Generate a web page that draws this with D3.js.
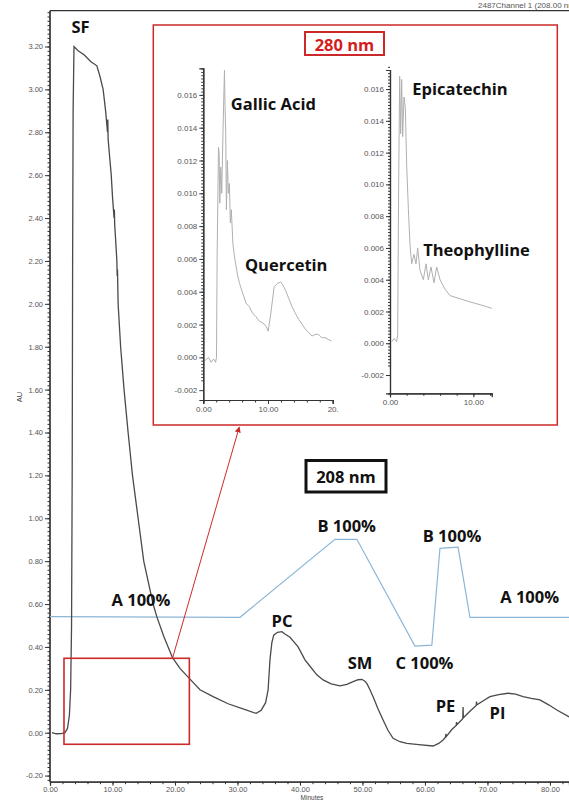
<!DOCTYPE html>
<html>
<head>
<meta charset="utf-8">
<script src="https://cdn.jsdelivr.net/npm/d3@7"></script>
<style>
  body { margin: 0; background: #fff; }
  svg { display: block; }
  .tick text { font-family: "Liberation Sans", Arial, sans-serif; fill: #555; }
  .lbl { font-family: "Open Sans", sans-serif; font-weight: 700; font-size: 16.5px; fill: #111; }
</style>
</head>
<body>
<div class="vis-hplc"></div>
<script>
// 208 nm trace (minutes, AU)
const trace208 = [
  [0.3, 0.0], [1.0, -0.005], [1.8, -0.004], [2.4, 0.0], [2.8, 0.02], [3.1, 0.08], [3.3, 0.2],
  [3.45, 0.5], [3.55, 1.2], [3.62, 2.2], [3.7, 2.9], [3.84, 3.2], [4.5, 3.18], [5.5, 3.16],
  [6.5, 3.13], [7.5, 3.11], [8.0, 3.06], [8.5, 3.0], [8.9, 2.9], [9.2, 2.8], [9.25, 2.86], [9.3, 2.77],
  [9.5, 2.7], [9.8, 2.6], [10.0, 2.5], [10.25, 2.4], [10.3, 2.44], [10.35, 2.37], [10.5, 2.3],
  [10.7, 2.2], [10.75, 2.13], [10.8, 2.16], [10.9, 2.0], [11.3, 1.8], [11.85, 1.6], [12.5, 1.4],
  [13.2, 1.2], [14.1, 1.0], [15.0, 0.8], [16.5, 0.6], [17.1, 0.54], [18.2, 0.45], [19.6, 0.35],
  [20.8, 0.3], [22.4, 0.25], [24.0, 0.2], [26.1, 0.168], [28.5, 0.135], [31.0, 0.11], [33.0, 0.09],
  [33.8, 0.105], [34.5, 0.14], [34.9, 0.2], [35.2, 0.34], [35.5, 0.42], [35.8, 0.455], [36.4, 0.468],
  [37.1, 0.471], [37.6, 0.46], [38.4, 0.445], [39.0, 0.425], [39.7, 0.40], [40.8, 0.34], [41.6, 0.31],
  [42.7, 0.27], [43.7, 0.246], [45.0, 0.228], [46.4, 0.218], [47.5, 0.225], [48.5, 0.238], [49.3, 0.247],
  [49.9, 0.249], [50.4, 0.24], [50.7, 0.23], [51.2, 0.2], [51.7, 0.168], [52.5, 0.11], [53.3, 0.059],
  [54.1, 0.01], [54.9, -0.026], [56.0, -0.042], [57.1, -0.05], [59.0, -0.056], [61.3, -0.062],
  [62.2, -0.05], [62.9, -0.034], [63.3, -0.02], [63.35, -0.005], [63.4, -0.018], [64.3, 0.015],
  [65.0, 0.034], [65.05, 0.05], [65.1, 0.037], [66.05, 0.065], [66.1, 0.12], [66.15, 0.07],
  [67.2, 0.1], [68.2, 0.127], [68.25, 0.145], [68.3, 0.13], [69.4, 0.15], [70.4, 0.168], [71.8, 0.178],
  [73.3, 0.184], [74.5, 0.18], [75.7, 0.168], [77.0, 0.16], [78.4, 0.153], [79.8, 0.13], [81.1, 0.106],
  [83.0, 0.075], [84.0, 0.065]
];

// solvent gradient overlay, drawn on the AU scale
const gradient = [
  [0, 0.541], [30.4, 0.538], [45.6, 0.902], [49.1, 0.902], [58.4, 0.404], [61.1, 0.408],
  [62.4, 0.86], [65.3, 0.865], [67.2, 0.538], [86, 0.538]
];

// 280 nm insets (minutes, AU)
const gallicTrace = [
  [0.26, -0.0002], [0.8, 0.0], [1.2, -0.0003], [1.6, -0.0001], [1.9, -0.0003], [2.04, 0.0],
  [2.14, 0.0063], [2.24, 0.0094], [2.35, 0.0128], [2.45, 0.0124], [2.55, 0.0094], [2.7, 0.0116],
  [2.85, 0.0100], [3.05, 0.0139], [3.27, 0.0175], [3.36, 0.0153], [3.47, 0.0136], [3.57, 0.0090],
  [3.72, 0.0120], [3.87, 0.0100], [4.03, 0.0106], [4.18, 0.0082], [4.33, 0.0090], [4.58, 0.0069],
  [4.8, 0.0062], [5.0, 0.0057], [5.3, 0.0050], [5.6, 0.0045], [6.1, 0.0039], [6.6, 0.0033],
  [7.1, 0.0031], [7.6, 0.0027], [8.1, 0.0025], [8.66, 0.0022], [9.2, 0.0021], [9.68, 0.0019],
  [10.03, 0.0016], [10.44, 0.0027], [10.95, 0.0043], [11.45, 0.0045], [11.97, 0.0046], [12.3, 0.0044],
  [12.7, 0.0041], [13.2, 0.0036], [13.7, 0.0031], [14.2, 0.0027], [14.76, 0.0023], [15.3, 0.0020],
  [15.8, 0.0017], [16.3, 0.0015], [16.8, 0.0013], [17.3, 0.0014], [17.8, 0.0014], [18.3, 0.0012],
  [18.8, 0.0012], [19.3, 0.0011], [19.8, 0.0010]
];
const epicatechinTrace = [
  [0.2, 0.0001], [0.5, 0.0003], [0.8, 0.0001], [0.92, 0.0005], [1.04, 0.0100], [1.16, 0.0168],
  [1.28, 0.0132], [1.4, 0.0166], [1.52, 0.0130], [1.68, 0.0155], [1.84, 0.0148], [2.0, 0.0112],
  [2.2, 0.0085], [2.4, 0.0062], [2.6, 0.0050], [2.88, 0.0056], [3.12, 0.0050], [3.32, 0.0060],
  [3.6, 0.0046], [4.0, 0.0040], [4.32, 0.0050], [4.6, 0.0040], [4.92, 0.0048], [5.28, 0.0038],
  [5.6, 0.0048], [6.0, 0.0040], [6.6, 0.0034], [7.2, 0.0030], [7.8, 0.0029], [8.4, 0.0028],
  [9.0, 0.0027], [9.6, 0.0026], [10.3, 0.0025], [11.0, 0.0024], [11.6, 0.0023], [12.2, 0.0022]
];

// tick labels
const auTicks = ["-0.20", "0.00", "0.20", "0.40", "0.60", "0.80", "1.00", "1.20", "1.40", "1.60",
  "1.80", "2.00", "2.20", "2.40", "2.60", "2.80", "3.00", "3.20"];
const minuteTicks = ["0.00", "10.00", "20.00", "30.00", "40.00", "50.00", "60.00", "70.00", "80.00"];
const insetAuTicks = ["-0.002", "0.000", "0.002", "0.004", "0.006", "0.008", "0.010", "0.012", "0.014", "0.016"];
const gallicMinTicks = ["0.00", "10.00", "20."];
const epiMinTicks = ["0.00", "10.00"];

const W = 569, H = 800;
const svg = d3.select('.vis-hplc').append('svg').attr('width', W).attr('height', H);

const x = d3.scaleLinear().domain([0, 83.05]).range([50, 569]);
const y = d3.scaleLinear().domain([-0.2285, 3.367]).range([781.7, 10.7]);

function styleAxis(g, fs) {
  g.select('.domain').attr('stroke', '#333').attr('stroke-width', 1.2);
  g.selectAll('.tick line').attr('stroke', '#333');
  g.selectAll('.tick text').style('font-size', fs + 'px');
}

// frame top line + header
svg.append('line').attr('x1', 50).attr('x2', W).attr('y1', 10.7).attr('y2', 10.7)
  .attr('stroke', '#333').attr('stroke-width', 1.2);
svg.append('text').attr('x', 478).attr('y', 7.5)
  .style('font-family', '"Liberation Sans", Arial, sans-serif').style('font-size', '8px').attr('fill', '#555')
  .text('2487Channel 1 (208.00 nm)');

// main axes
const yMinor = svg.append('g').attr('transform', 'translate(50,0)')
  .call(d3.axisLeft(y).tickValues(d3.range(-22, 337, 2).map(d => d / 100)).tickSize(2.5).tickFormat(''));
styleAxis(yMinor, 7);
const yAxis = svg.append('g').attr('transform', 'translate(50,0)')
  .call(d3.axisLeft(y).tickValues(auTicks.map(Number)).tickSize(5).tickPadding(2)
    .tickFormat((d, i) => auTicks[i]));
styleAxis(yAxis, 7.5);
yMinor.select('.domain').attr('d', `M0,10.7V781.7`);
yAxis.select('.domain').attr('d', `M0,10.7V781.7`);

const xMinor = svg.append('g').attr('transform', 'translate(0,781.7)')
  .call(d3.axisBottom(x).tickValues(d3.range(0, 84, 2)).tickSize(2.5).tickFormat(''));
styleAxis(xMinor, 7);
const xAxis = svg.append('g').attr('transform', 'translate(0,781.7)')
  .call(d3.axisBottom(x).tickValues(minuteTicks.map(Number)).tickSize(4).tickPadding(1)
    .tickFormat((d, i) => minuteTicks[i]));
styleAxis(xAxis, 7.5);

svg.append('text').attr('transform', 'translate(22,397) rotate(-90)').attr('text-anchor', 'middle')
  .style('font-family', '"Liberation Sans", Arial, sans-serif').style('font-size', '7.5px').attr('fill', '#444')
  .text('AU');
svg.append('text').attr('x', 312).attr('y', 799.5).attr('text-anchor', 'middle')
  .style('font-family', '"Liberation Sans", Arial, sans-serif').style('font-size', '6.5px').attr('fill', '#444')
  .text('Minutes');

const line = d3.line().x(d => x(d[0])).y(d => y(d[1]));

svg.append('path').datum(gradient).attr('d', line)
  .attr('fill', 'none').attr('stroke', '#8cb6d6').attr('stroke-width', 1.2);
svg.append('path').datum(trace208).attr('d', line)
  .attr('fill', 'none').attr('stroke', '#4a4a4a').attr('stroke-width', 1.3);

// zoom box + arrow to the inset
const red = '#cc2a2a';
svg.append('rect').attr('x', x(2.24)).attr('y', y(0.347))
  .attr('width', x(22.3) - x(2.24)).attr('height', y(-0.054) - y(0.347))
  .attr('fill', 'none').attr('stroke', red).attr('stroke-width', 1.6);

svg.append('defs').append('marker').attr('id', 'ah').attr('viewBox', '0 0 10 10')
  .attr('refX', 9).attr('refY', 5).attr('markerWidth', 6).attr('markerHeight', 6).attr('orient', 'auto')
  .append('path').attr('d', 'M0,0L10,5L0,10z').attr('fill', red);
svg.append('line').attr('x1', x(19.6)).attr('y1', y(0.347)).attr('x2', 239.3).attr('y2', 427)
  .attr('stroke', red).attr('stroke-width', 1).attr('marker-end', 'url(#ah)');

// inset frame
svg.append('rect').attr('x', 153.3).attr('y', 25).attr('width', 557.3 - 153.3).attr('height', 400)
  .attr('fill', '#fff').attr('stroke', red).attr('stroke-width', 1.5);

function inset(data, xDom, xRange, yDom, yRange, xLabels) {
  const ix = d3.scaleLinear().domain(xDom).range(xRange);
  const iy = d3.scaleLinear().domain(yDom).range(yRange);
  const g = svg.append('g');
  const ym = g.append('g').attr('transform', `translate(${xRange[0]},0)`)
    .call(d3.axisLeft(iy).tickValues(d3.range(-14, 176, 2).map(d => d / 10000)).tickSize(2).tickFormat(''));
  styleAxis(ym, 7);
  const ya = g.append('g').attr('transform', `translate(${xRange[0]},0)`)
    .call(d3.axisLeft(iy).tickValues(insetAuTicks.map(Number)).tickSize(4).tickPadding(2)
      .tickFormat((d, i) => insetAuTicks[i]));
  styleAxis(ya, 8);
  const xm = g.append('g').attr('transform', `translate(0,${yRange[0]})`)
    .call(d3.axisBottom(ix).tickValues(d3.range(0, xDom[1], 2)).tickSize(2.5).tickFormat(''));
  styleAxis(xm, 7);
  const xa = g.append('g').attr('transform', `translate(0,${yRange[0]})`)
    .call(d3.axisBottom(ix).tickValues(xLabels.map(Number)).tickSize(4).tickPadding(2)
      .tickFormat((d, i) => xLabels[i]));
  styleAxis(xa, 8);
  g.append('path').datum(data)
    .attr('d', d3.line().x(d => ix(d[0])).y(d => iy(d[1])))
    .attr('fill', 'none').attr('stroke', '#b0b0b0').attr('stroke-width', 1);
}
inset(gallicTrace, [0, 20], [203.3, 332.7], [-0.0026, 0.01762], [400, 68.3], gallicMinTicks);
inset(epicatechinTrace, [0, 12.2], [390, 491.7], [-0.00315, 0.0172], [393.3, 70], epiMinTicks);

// wavelength boxes
svg.append('rect').attr('x', 305).attr('y', 32).attr('width', 79).attr('height', 23)
  .attr('fill', '#fff').attr('stroke', red).attr('stroke-width', 2);
svg.append('rect').attr('x', 306).attr('y', 460.5).attr('width', 80).attr('height', 31.5)
  .attr('fill', '#fff').attr('stroke', '#111').attr('stroke-width', 3);

const labels = [
  { t: 'SF', x: 80.5, y: 26 },
  { t: 'A 100%', x: 141, y: 599 },
  { t: 'B 100%', x: 346.7, y: 525 },
  { t: 'B 100%', x: 452, y: 535 },
  { t: 'A 100%', x: 529.7, y: 596 },
  { t: 'PC', x: 282, y: 620 },
  { t: 'SM', x: 360, y: 662 },
  { t: 'C 100%', x: 424.5, y: 662 },
  { t: 'PE', x: 445.5, y: 705 },
  { t: 'PI', x: 497.5, y: 712 },
  { t: 'Gallic Acid', x: 273.3, y: 103 },
  { t: 'Quercetin', x: 286.2, y: 264 },
  { t: 'Epicatechin', x: 460, y: 88.5 },
  { t: 'Theophylline', x: 476.5, y: 249.5 },
  { t: '208 nm', x: 346, y: 476.5 },
  { t: '280 nm', x: 344.5, y: 44, c: '#d41c1c' }
];
svg.selectAll('.lbl').data(labels).enter().append('text')
  .attr('class', 'lbl')
  .attr('x', d => d.x).attr('y', d => d.y)
  .attr('text-anchor', 'middle').attr('dominant-baseline', 'central')
  .style('fill', d => d.c || '#111')
  .text(d => d.t);
</script>
</body>
</html>
